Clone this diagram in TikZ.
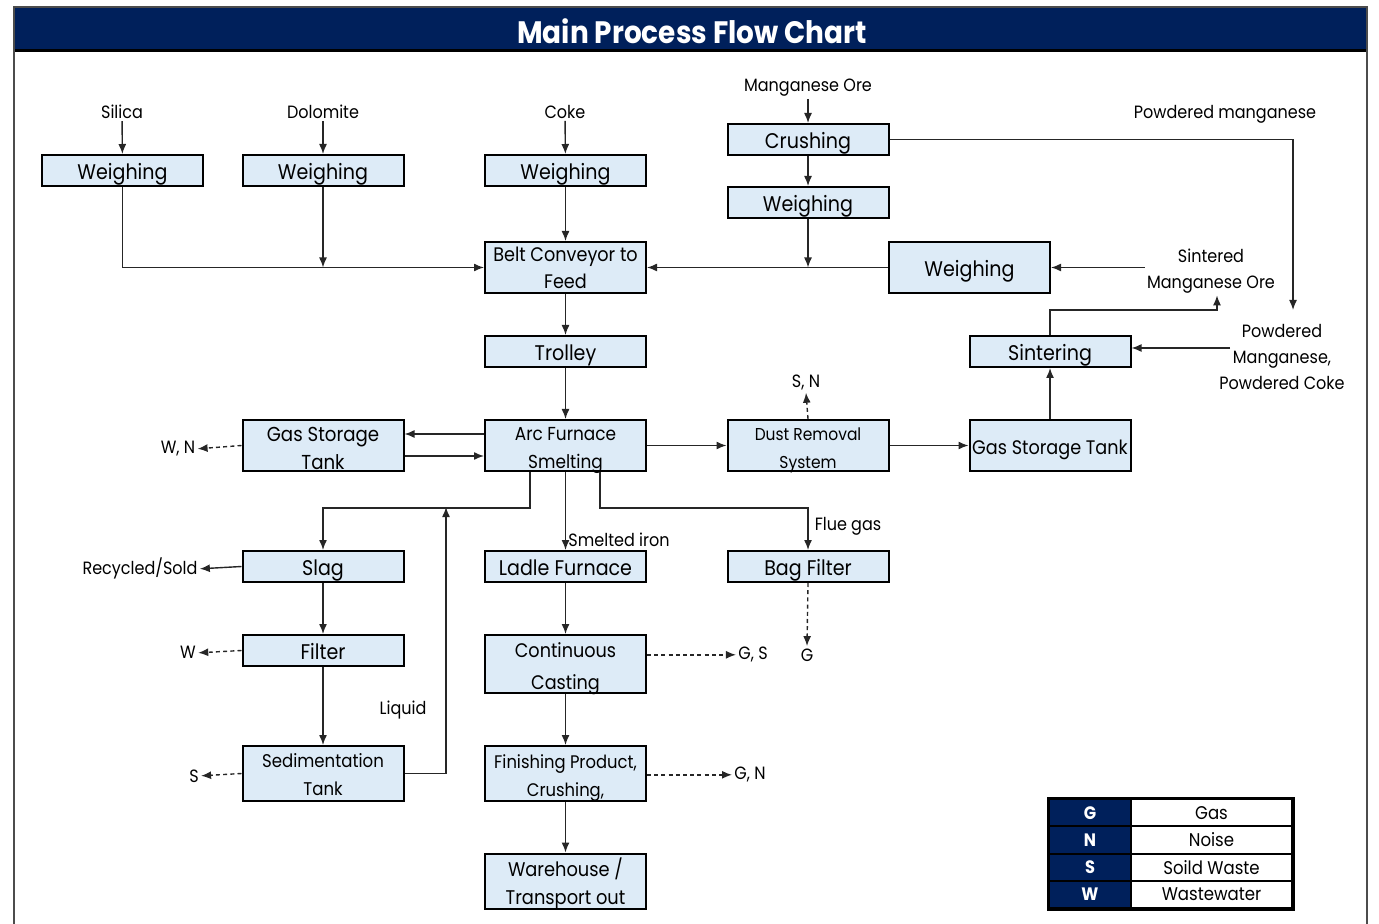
\documentclass[tikz,border=0pt]{standalone}
\usepackage{fontspec}
\setmainfont{Poppins}[FakeStretch=0.9]
\usetikzlibrary{arrows.meta}
\definecolor{navy}{RGB}{0,32,91}
\definecolor{boxblue}{RGB}{221,235,247}
\newcommand\twolines[3][1em]{\rule{0pt}{#1}#2\\\raisebox{0pt}[\height][0pt]{#3}}

\begin{document}
\begin{tikzpicture}[x=0.5pt,y=-0.5pt,
	box/.style={draw=black,line width=1pt,fill=boxblue,minimum width=80.5pt,minimum height=15.5pt,inner sep=0pt,align=center},
	onebox/.style={box,text height=8.8pt,text depth=0pt,font=\fontsize{10.6}{14}\selectfont},
	twobox/.style={box,minimum height=25.5pt},
	lbl/.style={inner sep=1pt,align=center,yshift=-0.9pt,font=\fontsize{8.9}{13}\selectfont},
	flow/.style={line width=0.7pt,black!85,-{Latex[length=5pt,width=4pt]}},
	emit/.style={flow,dash pattern=on 2pt off 1.6pt},
	keycell/.style={draw=black,line width=1pt,fill=navy,text=white,minimum width=41pt,minimum height=13.6pt,inner sep=0pt,font=\fontsize{9}{10}\bfseries\selectfont},
	valcell/.style={draw=black,line width=1pt,fill=white,minimum width=80.5pt,minimum height=13.6pt,inner sep=0pt,font=\fontsize{9.2}{10}\selectfont}]
				\useasboundingbox (0,0) rectangle (1379,924);
				
				% frame and title bar
				\fill[navy] (14,7) rectangle (1367,50);
				\draw[line width=1.2pt] (14,50.5) -- (1367,50.5);
				\draw[line width=0.8pt,black!70] (14,924) -- (14,7) -- (1367,7) -- (1367,924);
				\node[text=white,font=\fontsize{15.5}{17}\bfseries\selectfont] (title) at (692,31) {Main Process Flow Chart};
				
				% process boxes
				\node[onebox] (wsil) at (122.5,170.5) {Weighing};
				\node[onebox] (wdol) at (323,170.5) {Weighing};
				\node[onebox] (wcoke) at (565.5,170.5) {Weighing};
				\node[onebox] (crush) at (808,139.5) {Crushing};
				\node[onebox] (wore) at (808,202.5) {Weighing};
				\node[twobox,font=\fontsize{9.8}{13.5}\selectfont] (belt) at (565.5,267.5) {\twolines[0pt]{Belt Conveyor to}{Feed}};
				\node[onebox,minimum height=25.5pt] (wsint) at (969.5,267.5) {Weighing};
				\node[onebox] (trolley) at (565.5,351.5) {Trolley};
				\node[onebox] (sinter) at (1050,351.5) {Sintering};
				\node[twobox,font=\fontsize{10.1}{14}\selectfont] (gasl) at (323,445.5) {\twolines{Gas Storage}{Tank}};
				\node[twobox,font=\fontsize{9.4}{14}\selectfont] (arc) at (565.5,445.5) {\twolines{Arc Furnace}{Smelting}};
				\node[twobox,font=\fontsize{8.6}{14}\selectfont] (dust) at (808,445.5) {\twolines{Dust Removal}{System}};
				\node[onebox,minimum height=25.5pt,font=\fontsize{9.8}{14}\selectfont] (gasr) at (1050,445.5) {Gas Storage Tank};
				\node[onebox] (slag) at (323,566.5) {Slag};
				\node[onebox] (ladle) at (565.5,566.5) {Ladle Furnace};
				\node[onebox] (bag) at (808,566.5) {Bag Filter};
				\node[onebox] (filter) at (323,650.5) {Filter};
				\node[twobox,minimum height=29pt,font=\fontsize{9.8}{16}\selectfont] (cast) at (565.5,664) {\twolines{Continuous}{Casting}};
				\node[twobox,minimum height=27.5pt,font=\fontsize{9.2}{14}\selectfont] (sed) at (323,773.5) {\twolines[0.9em]{Sedimentation}{Tank}};
				\node[twobox,minimum height=27.5pt,font=\fontsize{9.1}{14}\selectfont] (finish) at (565.5,773.5) {\twolines[0.95em]{Finishing Product,}{Crushing,}};
				\node[twobox,minimum height=27.5pt,font=\fontsize{9.9}{14}\selectfont] (ware) at (565.5,881) {\twolines[0pt]{Warehouse /}{Transport out}};
				
				% labels
				\node[lbl] (silica) at (122,110) {Silica};
				\node[lbl] (dolo) at (323,110) {Dolomite};
				\node[lbl] (coke) at (565,110) {Coke};
				\node[lbl] (mnore) at (808,86) {Manganese Ore};
				\node[lbl] (pmn) at (1225,113) {Powdered manganese};
				\node[lbl] (smo) at (1211,269) {Sintered\\Manganese Ore};
				\node[lbl] (pmc) at (1282,355) {Powdered\\Manganese,\\Powdered Coke};
				\node[lbl] (wn) at (178,447) {W, N};
				\node[lbl] (sn) at (806,381) {S, N};
				\node[lbl] (recyc) at (140,567) {Recycled/Sold};
				\node[lbl] (w) at (188,651) {W};
				\node[lbl] (s) at (194,774) {S};
				\node[lbl] (gs) at (753,653) {G, S};
				\node[lbl] (gn) at (750,773) {G, N};
				\node[lbl] (g) at (807,653) {G};
				\node[lbl] (smelted) at (619,538) {Smelted iron};
				\node[lbl] (flue) at (848,525) {Flue gas};
				\node[lbl] (liquid) at (403,708) {Liquid};
				
				\coordinate (pmcin) at (1293,310);
				\coordinate (sturn) at (1217,310);
				\coordinate (pmcout) at (1230,348);
				\coordinate (liqin) at (446,507);
				
				% raw material feed
				\draw[flow] (silica) -- (wsil);
				\draw[flow] (dolo) -- (wdol);
				\draw[flow] (coke) -- (wcoke);
				\draw[flow] (mnore) -- (crush);
				\draw[flow] (crush) -- (wore);
				\draw[flow] (crush.east) -| (pmcin);
				\draw[flow] (wsil.south) |- (belt.west);
				\draw[flow] (wdol.south) -- (wdol.south |- belt.west);
				\draw[flow] (wcoke) -- (belt);
				\draw[flow] (wore.south) -- (wore.south |- belt.east);
				\draw[flow] (wsint.west) -- (belt.east);
				\draw[flow] (smo.west |- wsint.east) -- (wsint.east);
				\draw[flow] (sinter.north) |- (sturn) -- (sturn |- smo.south);
				\draw[flow] (pmcout) -- (sinter.east |- pmcout);
				\draw[flow] (gasr.north) -- (sinter.south);
				
				% smelting
				\draw[flow] (belt) -- (trolley);
				\draw[flow] (trolley) -- (arc);
				\draw[flow] ([yshift=5.75pt]arc.west) -- ([yshift=5.75pt]gasl.east);
				\draw[flow] ([yshift=-5.25pt]gasl.east) -- ([yshift=-5.25pt]arc.west);
				\draw[emit] (gasl.west) -- (wn.east);
				\draw[flow] (arc) -- (dust);
				\draw[emit] (dust.north) -- (sn.south);
				\draw[flow] (dust) -- (gasr);
				\draw[flow] ([xshift=-17.75pt]arc.south) -- ++(0,-18pt) -| (slag.north);
				\draw[flow] (arc.south) -- (ladle.north);
				\draw[flow] ([xshift=17.25pt]arc.south) -- ++(0,-18pt) -| (bag.north);
				\draw[emit] (bag.south) -- (g.north);
				
				% slag line
				\draw[flow] (slag.west) -- (recyc.east);
				\draw[flow] (slag) -- (filter);
				\draw[emit] (filter.west) -- (w.east);
				\draw[flow] (filter) -- (sed);
				\draw[emit] (sed.west) -- (s.east);
				\draw[flow] (sed.east) -| (liqin);
				
				% product line
				\draw[flow] (ladle) -- (cast);
				\draw[emit] (cast.east |- gs) -- (gs.west);
				\draw[flow] (cast) -- (finish);
				\draw[emit] (finish.east |- gn) -- (gn.west);
				\draw[flow] (finish) -- (ware);
				
				% legend
				\foreach \k/\v [count=\i] in {G/Gas,N/Noise,S/Soild Waste,W/Wastewater}{
					\node[keycell] (key\i) at (1090,785.4+27.25*\i) {\k};
					\node[valcell] (val\i) at (1211.5,785.4+27.25*\i) {\v};
				}
				\draw[line width=1.5pt] (key1.north west) rectangle (val4.south east);
			\end{tikzpicture}
\end{document}
